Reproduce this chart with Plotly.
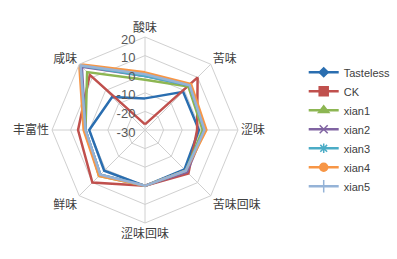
import plotly.graph_objects as go

categories = ["酸味", "苦味", "涩味", "苦味回味", "涩味回味", "鲜味", "丰富性", "咸味"]
series_names = ["Tasteless", "CK", "xian1", "xian2", "xian3", "xian4", "xian5"]
tasteless = [-13, -1, -1, 0, 0, 1, 0, -5]
ck = [-27, 10, -2, 3, 0, 10, 6, 12]
xian1 = [-3, 3, 1, 1, 0, 5, 2, 14]
xian2 = [-1, 4, 2, 2, 0, 4, 2, 18]
xian3 = [-1, 4, 2, 1, 0, 4, 2, 19]
xian4 = [1, 5, 3, 1, 0, 5, 3, 20]
xian5 = [0, 4, 2, 1, 0, 4, 2, 19]
radial_ticks = [-30, -20, -10, 0, 10, 20]
radial_labels = ["-30", "-20", "-10", "0", "10", "20"]

all_values = [tasteless, ck, xian1, xian2, xian3, xian4, xian5]
colors = ["#2A6EB0", "#C0504D", "#8DB653", "#8064A2", "#4BACC6", "#F79646", "#95B3D7"]
symbols = ["diamond", "square", "triangle-up", "x-thin", "asterisk", "circle", "cross-thin"]
msizes = [7, 9, 9, 8, 8, 8, 9]

fig = go.Figure()
for name, vals, c, s, ms in zip(series_names, all_values, colors, symbols, msizes):
    fig.add_trace(go.Scatterpolar(
        r=vals + [vals[0]],
        theta=categories + [categories[0]],
        mode="lines+markers",
        name=name,
        line=dict(color=c, width=2.5),
        marker=dict(symbol=s, size=ms, color=c, line=dict(color=c, width=1.5)),
    ))

fig.update_layout(
    width=397, height=259,
    margin=dict(l=0, r=0, t=0, b=0),
    paper_bgcolor="white",
    plot_bgcolor="white",
    showlegend=True,
    legend=dict(
        x=0.765, y=0.777, xanchor="left", yanchor="top",
        font=dict(family="Liberation Sans, Arial", size=11, color="#404040"),
        itemwidth=30,
        tracegroupgap=0,
        bgcolor="rgba(0,0,0,0)",
    ),
    polar=dict(
        domain=dict(x=[(145 - 93) / 397, (145 + 93) / 397], y=[36 / 259, 222 / 259]),
        bgcolor="white",
        gridshape="linear",
        radialaxis=dict(
            range=[-30, 20],
            tickvals=radial_ticks,
            ticktext=radial_labels,
            angle=90,
            side="counterclockwise",
            showline=False,
            ticks="",
            gridcolor="#D0D0D0",
            gridwidth=1,
            tickfont=dict(family="Liberation Sans, Arial", size=13, color="#595959"),
        ),
        angularaxis=dict(
            direction="clockwise",
            rotation=90,
            showline=True,
            linecolor="#D0D0D0",
            linewidth=1,
            gridcolor="#D0D0D0",
            ticks="",
            tickfont=dict(family="Noto Sans CJK SC", size=12, color="#404040"),
        ),
    ),
)

fig.write_html("out.html")
